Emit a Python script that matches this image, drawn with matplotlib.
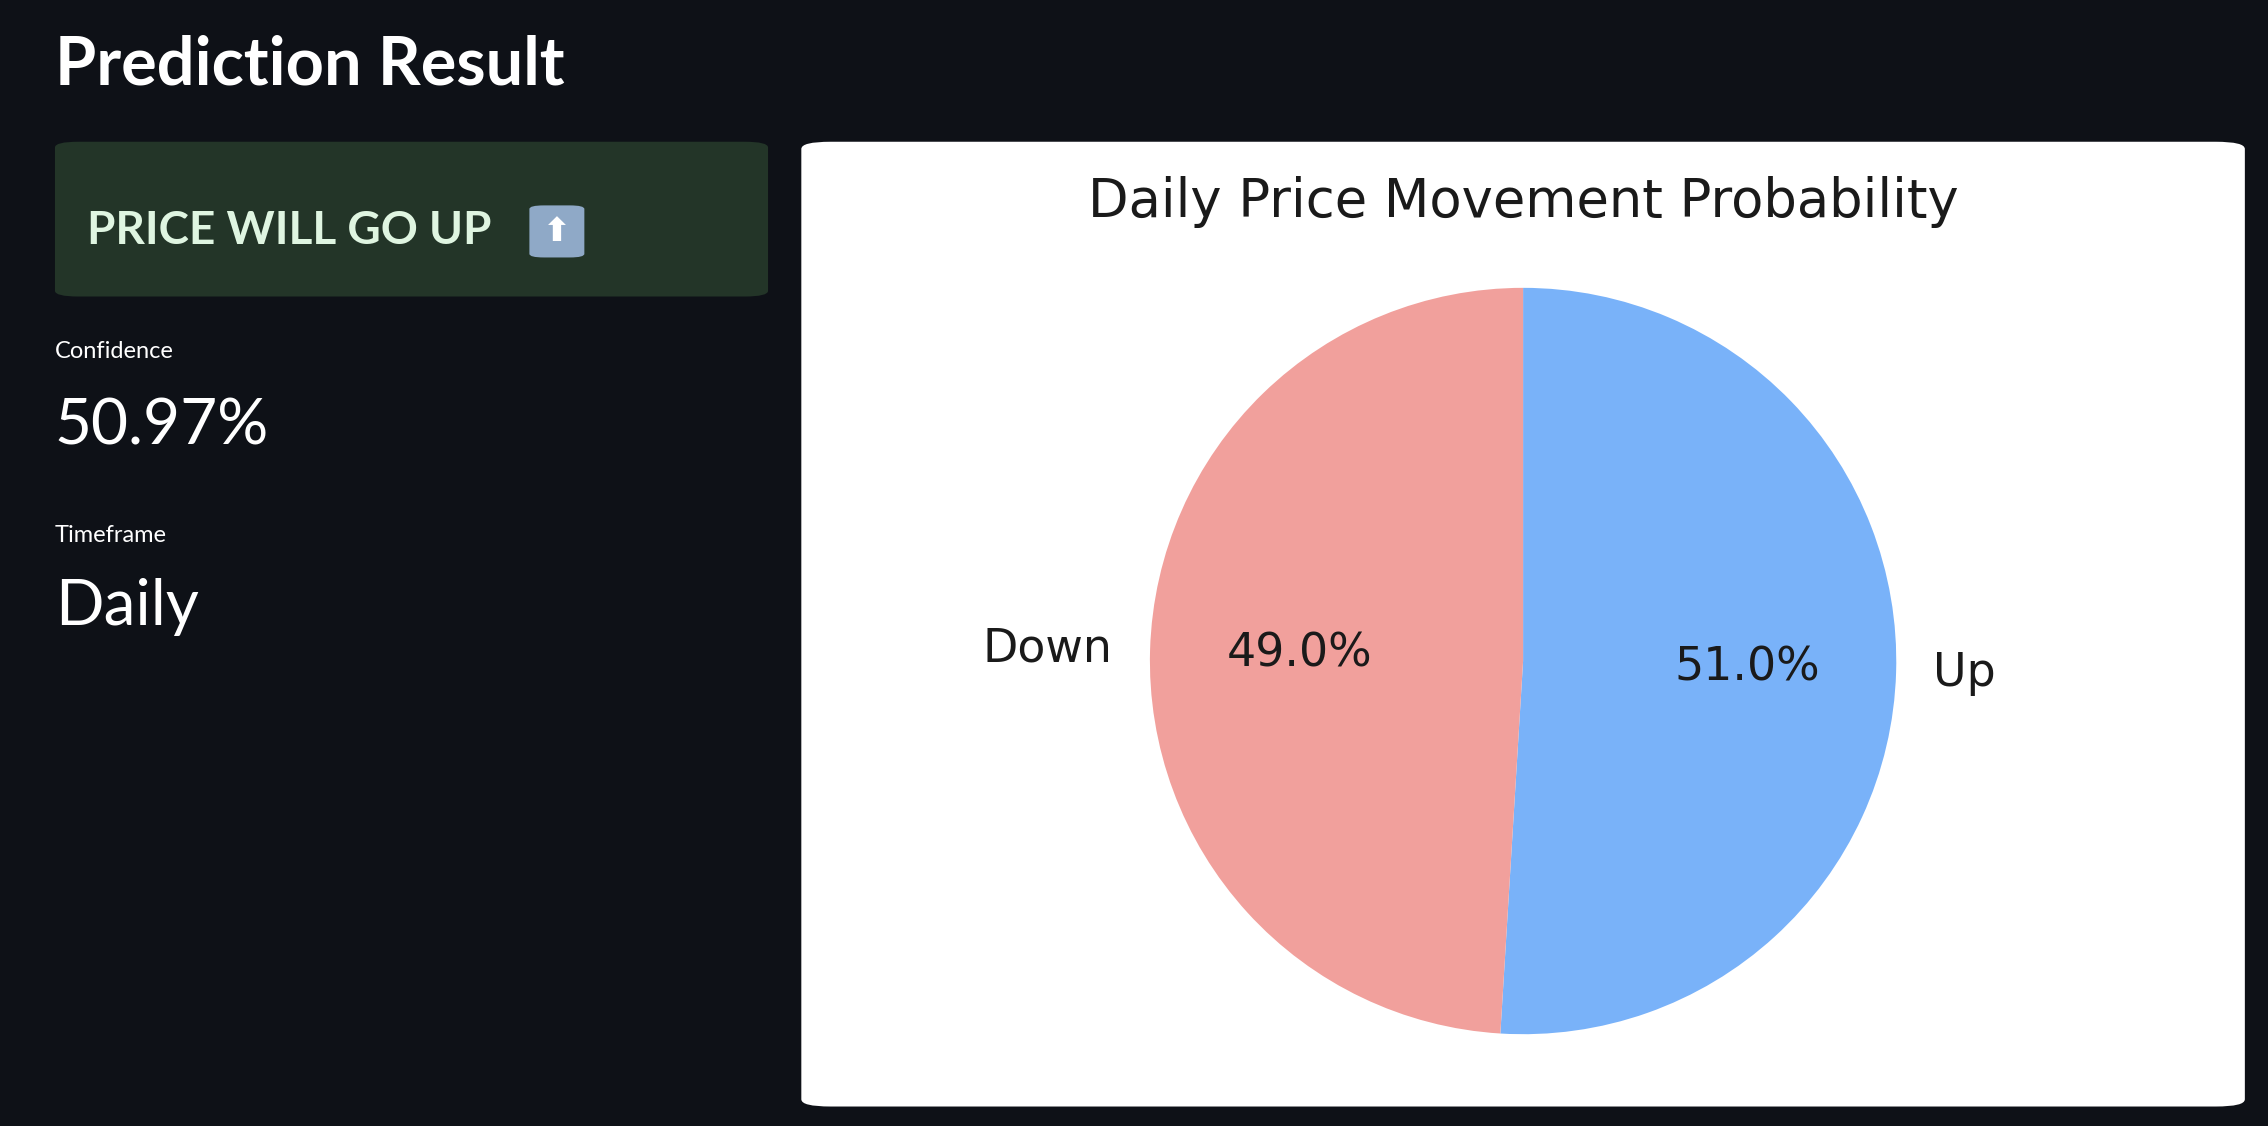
import matplotlib
matplotlib.use("Agg")
import matplotlib.pyplot as plt
from matplotlib.patches import FancyBboxPatch

labels = ["Up", "Down"]
values = [50.97, 49.03]
colors = ["#79b2f9", "#f1a09c"]
headline = "PRICE WILL GO UP"
confidence_text = "50.97%"
timeframe_text = "Daily"
chart_title = "Daily Price Movement Probability"

W, H = 2268, 1126
S = W / 1568.0
fig = plt.figure(figsize=(W / 100, H / 100), dpi=100, facecolor="#0e1117")

def fx(x): return x * S / W
def fy(y): return 1 - y * S / H

def box(x0, y0, x1, y1, color, r, z=-5):
    p = FancyBboxPatch((fx(x0), fy(y1)), fx(x1) - fx(x0), fy(y0) - fy(y1),
                       boxstyle=f"round,pad=0,rounding_size={r*S/H}",
                       transform=fig.transFigure, facecolor=color, edgecolor="none",
                       mutation_aspect=H / W, zorder=z)
    fig.patches.append(p)

sans = ["Lato", "DejaVu Sans"]
fig.text(fx(38), fy(45), "Prediction Result", color="white", fontsize=48,
         fontweight="bold", va="center", family=sans)
box(38, 98, 531, 205, "#233528", 8)
fig.text(fx(60), fy(160), headline, color="#dff5e1", fontsize=33,
         fontweight="bold", va="center", family=sans)
# arrow emoji substitute
box(366, 142, 404, 178, "#8fa9c7", 5)
fig.text(fx(385), fy(160), "⬆", color="white", fontsize=24, ha="center",
         va="center", family=["DejaVu Sans"], fontweight="bold")
fig.text(fx(38), fy(243), "Confidence", color="white", fontsize=17, va="center", family=sans)
fig.text(fx(38), fy(295), confidence_text, color="white", fontsize=46, va="center", family=sans)
fig.text(fx(38), fy(370), "Timeframe", color="white", fontsize=17, va="center", family=sans)
fig.text(fx(38), fy(420), timeframe_text, color="white", fontsize=46, va="center", family=sans)

box(554, 98, 1552, 765, "white", 10)
fig.text(fx(1053), fy(140), chart_title, color="#1a1a1a", fontsize=38,
         ha="center", va="center", family=["DejaVu Sans"])

cx, cy, r = 1053, 457, 258
ax = fig.add_axes([fx(cx - r), fy(cy + r), fx(2 * r), fy(cy - r) - fy(cy + r)])
ax.set_facecolor("none")
wedges, texts, autotexts = ax.pie(values, labels=labels, colors=colors, autopct="%1.1f%%",
                                  startangle=90, counterclock=False,
                                  textprops={"fontsize": 33, "color": "#1a1a1a"})
ax.set_xlim(-1, 1)
ax.set_ylim(-1, 1)
ax.set_aspect("equal")
ax.axis("off")
for t in texts + autotexts:
    t.set_clip_on(False)

fig.savefig("out.png", dpi=100, facecolor=fig.get_facecolor())
